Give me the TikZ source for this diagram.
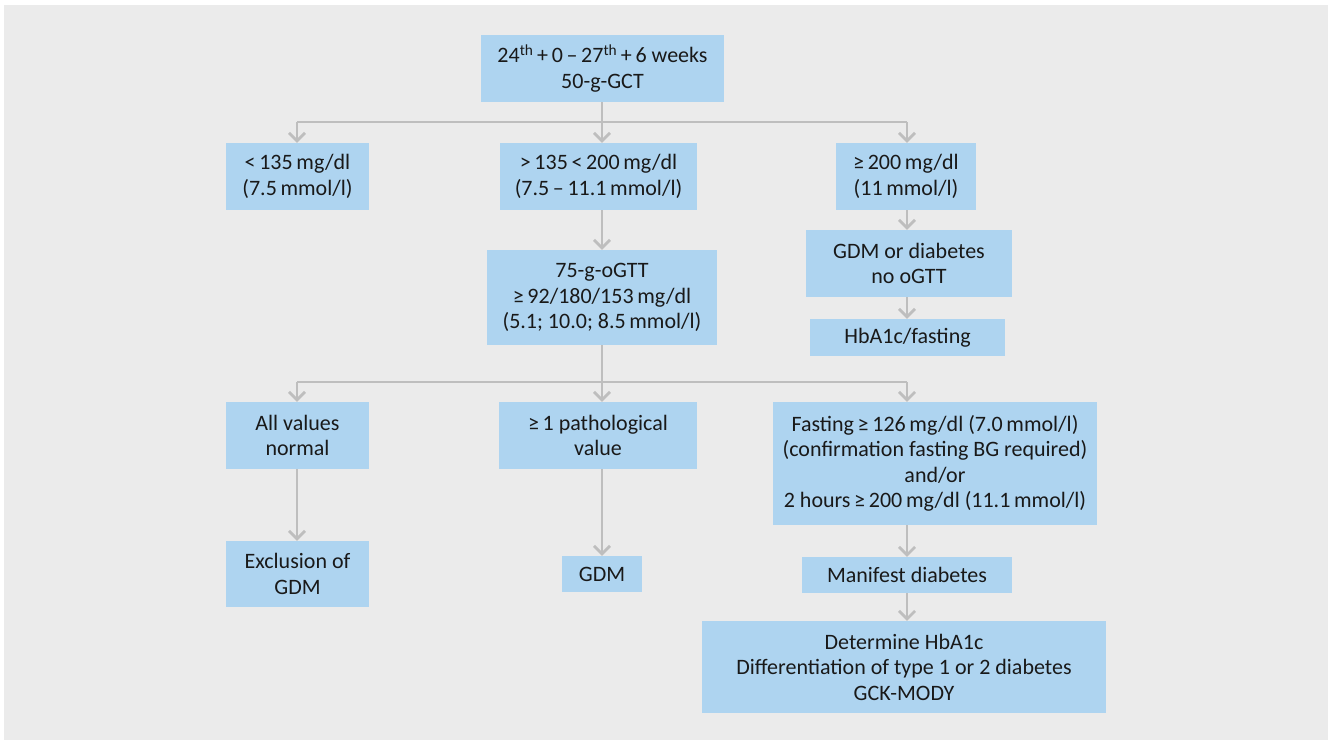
\documentclass[tikz,border=0pt]{standalone}
\usepackage{fontspec}
\setmainfont{Carlito}
\usetikzlibrary{arrows.meta}
\definecolor{boxblue}{RGB}{174,212,240}
\definecolor{bggray}{RGB}{235,235,235}
\definecolor{linegray}{RGB}{190,190,190}
\definecolor{txt}{RGB}{25,25,25}
\tikzset{
  box/.style={fill=boxblue, draw=none, align=center, inner sep=0pt,
    text=txt, font=\fontsize{22}{25.5}\selectfont},
  link/.style={draw=linegray, line width=2.7pt},
  arr/.style={link, -{Straight Barb[length=8pt,width=16pt,line width=2.7pt]}}
}

\begin{document}
\begin{tikzpicture}[x=1pt,y=-1pt]
        \useasboundingbox (0,0) rectangle (1333,742);
        \fill[bggray] (4,5) rectangle (1328,740);
        % boxes
        \node[box, minimum width=243pt, minimum height=67pt] (gct) at (602.5,68.5) {24\textsuperscript{th}\,+\,0\,–\,27\textsuperscript{th}\,+\,6 weeks\\50-g-GCT};
        \node[box, minimum width=143pt, minimum height=67pt] (low) at (297.5,176.5) {<\,135\,mg/dl\\(7.5\,mmol/l)};
        \node[box, minimum width=197pt, minimum height=67pt] (mid) at (598.5,176.5) {>\,135\,<\,200\,mg/dl\\(7.5\,–\,11.1\,mmol/l)};
        \node[box, minimum width=140pt, minimum height=67pt] (high) at (906,176.5) {≥\,200\,mg/dl\\(11\,mmol/l)};
        \node[box, minimum width=230pt, minimum height=95pt] (ogtt) at (602,297.5) {75-g-oGTT\\≥\,92/180/153\,mg/dl\\(5.1; 10.0; 8.5\,mmol/l)};
        \node[box, minimum width=206pt, minimum height=67pt] (noogtt) at (909,263.5) {GDM or diabetes\\no oGTT};
        \node[box, minimum width=195pt, minimum height=37pt] (hba) at (907.5,337.5) {HbA1c/fasting};
        \node[box, minimum width=143pt, minimum height=67pt] (normal) at (297.5,435.5) {All values\\normal};
        \node[box, minimum width=198pt, minimum height=67pt] (patho) at (598,435.5) {≥\,1 pathological\\value};
        \node[box, minimum width=324pt, minimum height=123pt] (fasting) at (935,463.5) {Fasting\,≥\,126\,mg/dl (7.0\,mmol/l)\\(confirmation fasting BG required)\\and/or\\2 hours\,≥\,200\,mg/dl (11.1\,mmol/l)};
        \node[box, minimum width=143pt, minimum height=66pt] (excl) at (297.5,574) {Exclusion of\\GDM};
        \node[box, minimum width=80pt, minimum height=36pt] (gdm) at (602,574) {GDM};
        \node[box, minimum width=210pt, minimum height=36pt] (manifest) at (907,575) {Manifest diabetes};
        \node[box, minimum width=404pt, minimum height=92pt] (determine) at (904,667) {Determine HbA1c\\Differentiation of type 1 or 2 diabetes\\GCK-MODY};
        % first split
        \coordinate (bus1) at (602,122);
        \coordinate (bus1l) at (297,122);
        \coordinate (bus1r) at (907,122);
        \draw[link] (gct.south -| bus1) -- (bus1);
        \draw[link] (bus1l) -- (bus1r);
        \draw[arr] (bus1l) -- (bus1l |- low.north);
        \draw[arr] (bus1) -- (bus1 |- mid.north);
        \draw[arr] (bus1r) -- (bus1r |- high.north);
        % right branch
        \draw[arr] (bus1r |- high.south) -- (bus1r |- noogtt.north);
        \draw[arr] (bus1r |- noogtt.south) -- (bus1r |- hba.north);
        % middle branch
        \draw[arr] (bus1 |- mid.south) -- (bus1 |- ogtt.north);
        % second split
        \coordinate (bus2) at (602,382);
        \coordinate (bus2l) at (297,382);
        \coordinate (bus2r) at (907,382);
        \draw[link] (bus2 |- ogtt.south) -- (bus2);
        \draw[link] (bus2l) -- (bus2r);
        \draw[arr] (bus2l) -- (bus2l |- normal.north);
        \draw[arr] (bus2) -- (bus2 |- patho.north);
        \draw[arr] (bus2r) -- (bus2r |- fasting.north);
        % results
        \draw[arr] (bus2l |- normal.south) -- (bus2l |- excl.north);
        \draw[arr] (bus2 |- patho.south) -- (bus2 |- gdm.north);
        \draw[arr] (bus2r |- fasting.south) -- (bus2r |- manifest.north);
        \draw[arr] (bus2r |- manifest.south) -- (bus2r |- determine.north);
\end{tikzpicture}
\end{document}
